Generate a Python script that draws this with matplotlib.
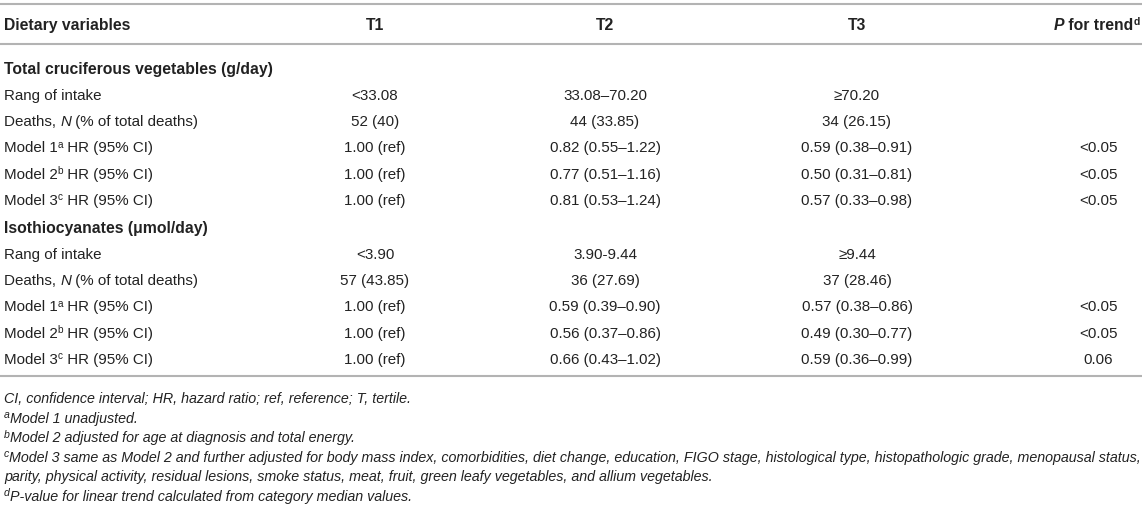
import matplotlib
matplotlib.use('Agg')
import matplotlib.pyplot as plt

plt.rcParams['font.family'] = ['Liberation Sans', 'DejaVu Sans']

# ---- table data ----
header_cols = ['T1', 'T2', 'T3']

section_names = ['Total cruciferous vegetables (g/day)', 'Isothiocyanates (\u03bcmol/day)']

cruc_t1 = ['<33.08', '52 (40)', '1.00 (ref)', '1.00 (ref)', '1.00 (ref)']
cruc_t2 = ['33.08\u201370.20', '44 (33.85)', '0.82 (0.55\u20131.22)', '0.77 (0.51\u20131.16)', '0.81 (0.53\u20131.24)']
cruc_t3 = ['\u226570.20', '34 (26.15)', '0.59 (0.38\u20130.91)', '0.50 (0.31\u20130.81)', '0.57 (0.33\u20130.98)']
cruc_p = ['', '', '<0.05', '<0.05', '<0.05']

iso_t1 = ['<3.90', '57 (43.85)', '1.00 (ref)', '1.00 (ref)', '1.00 (ref)']
iso_t2 = ['3.90-9.44', '36 (27.69)', '0.59 (0.39\u20130.90)', '0.56 (0.37\u20130.86)', '0.66 (0.43\u20131.02)']
iso_t3 = ['\u22659.44', '37 (28.46)', '0.57 (0.38\u20130.86)', '0.49 (0.30\u20130.77)', '0.59 (0.36\u20130.99)']
iso_p = ['', '', '<0.05', '<0.05', '0.06']

IT = {'style': 'italic'}
SUP = {'sup': True}

# row labels as (text, style) pieces
row_labels = [
    [('Rang of intake', {})],
    [('Deaths, ', {}), ('N', IT), (' (% of total deaths)', {})],
    [('Model 1', {}), ('a', SUP), (' HR (95% CI)', {})],
    [('Model 2', {}), ('b', SUP), (' HR (95% CI)', {})],
    [('Model 3', {}), ('c', SUP), (' HR (95% CI)', {})],
]

footnotes = [
    [('CI, confidence interval; HR, hazard ratio; ref, reference; T, tertile.', {})],
    [('a', SUP), ('Model 1 unadjusted.', {})],
    [('b', SUP), ('Model 2 adjusted for age at diagnosis and total energy.', {})],
    [('c', SUP), ('Model 3 same as Model 2 and further adjusted for body mass index, comorbidities, '
                  'diet change, education, FIGO stage, histological type, histopathologic grade, '
                  'menopausal status,', {})],
    [('parity, physical activity, residual lesions, smoke status, meat, fruit, green leafy '
      'vegetables, and allium vegetables.', {})],
    [('d', SUP), ('P-value for linear trend calculated from category median values.', {})],
]

TXT = '#222222'
LINE = '#b3b3b3'
FS = 10.9
FS_BOLD = 11.3
FS_NOTE = 10.25

fig = plt.figure(figsize=(11.46, 5.09), dpi=100)
ax = fig.add_axes([0, 0, 1, 1])
ax.set_xlim(0, 1146)
ax.set_ylim(509, 0)
ax.axis('off')
renderer = fig.canvas.get_renderer()


def put(x, y, parts, ha='left', size=FS, weight='normal', style='normal', sup_scale=0.66):
    # draw pieces side by side, y = visual centre of the line
    base = y + 0.5 * size
    objs = []
    total = 0
    for s, kw in parts:
        sup = kw.get('sup', False)
        st = kw.get('style', style)
        fs = size * sup_scale if sup else size
        yy = base - 0.42 * size if sup else base
        t = ax.text(0, yy, s, fontsize=fs, fontweight=weight, fontstyle=st,
                    color=TXT, ha='left', va='baseline')
        w = t.get_window_extent(renderer).width
        objs.append((t, total))
        total += w
    if ha == 'center':
        x0 = x - total / 2
    elif ha == 'right':
        x0 = x - total
    else:
        x0 = x
    for t, off in objs:
        t.set_x(x0 + off)


# rules
for yl in [4, 44, 376]:
    ax.plot([0, 1142], [yl, yl], color=LINE, lw=1.5, solid_capstyle='butt')

col_x = [375, 605, 857]
p_x = 1098

# header
put(4, 24, [('Dietary variables', {})], size=FS_BOLD, weight='bold')
for cx, h in zip(col_x, header_cols):
    put(cx, 24, [(h, {})], ha='center', size=FS_BOLD, weight='bold')
put(1140, 24, [('P', IT), (' for trend', {}), ('d', SUP)], ha='right', size=FS_BOLD, weight='bold')

sections = [
    (68, section_names[0], [cruc_t1, cruc_t2, cruc_t3], cruc_p),
    (227, section_names[1], [iso_t1, iso_t2, iso_t3], iso_p),
]
row_step = 26.3

for y0, name, cols, pvals in sections:
    put(4, y0, [(name, {})], size=FS_BOLD, weight='bold')
    for i, lab in enumerate(row_labels):
        yy = y0 + row_step * (i + 1)
        put(4, yy, lab)
        for cx, col in zip(col_x, cols):
            put(cx, yy, [(col[i], {})], ha='center')
        if pvals[i]:
            put(p_x, yy, [(pvals[i], {})], ha='center')

# footnotes
note_y = [398, 417.5, 437, 456.5, 476, 495.5]
for yy, note in zip(note_y, footnotes):
    put(4, yy, note, size=FS_NOTE, style='italic', sup_scale=0.74)

fig.savefig('out.png', dpi=100)
